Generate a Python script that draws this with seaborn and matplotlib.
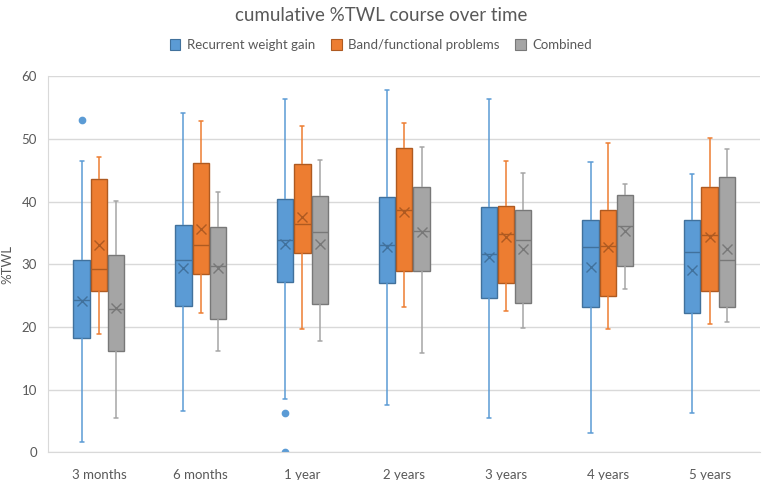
import numpy as np
import pandas as pd
import seaborn as sns
import matplotlib.pyplot as plt
from matplotlib.patches import Patch

categories = ['3 months', '6 months', '1 year', '2 years', '3 years', '4 years', '5 years']
series = ['Recurrent weight gain', 'Band/functional problems', 'Combined']

# box statistics (low whisker, Q1, median, Q3, high whisker, mean)
rwg_low = [1.6, 6.6, 8.5, 7.6, 5.5, 3.0, 6.2]
rwg_q1 = [18.3, 23.3, 27.2, 27.0, 24.6, 23.1, 22.2]
rwg_med = [24.3, 30.6, 33.8, 33.0, 31.6, 32.7, 32.0]
rwg_q3 = [30.7, 36.2, 40.4, 40.7, 39.1, 37.0, 37.1]
rwg_high = [46.5, 54.1, 56.3, 57.8, 56.4, 46.3, 44.4]
rwg_mean = [24.1, 29.4, 33.3, 32.8, 31.1, 29.5, 29.1]

band_low = [18.8, 22.2, 19.7, 23.1, 22.6, 19.7, 20.4]
band_q1 = [25.7, 28.5, 31.8, 28.9, 27.0, 24.9, 25.7]
band_med = [29.3, 33.1, 36.5, 38.6, 34.9, 32.9, 34.7]
band_q3 = [43.6, 46.2, 46.0, 48.5, 39.3, 38.6, 42.3]
band_high = [47.1, 52.8, 52.1, 52.5, 46.5, 49.3, 50.1]
band_mean = [33.0, 35.7, 37.6, 38.4, 34.4, 32.7, 34.3]

comb_low = [5.4, 16.1, 17.7, 15.9, 19.9, 26.1, 20.7]
comb_q1 = [16.2, 21.2, 23.6, 29.0, 23.8, 29.7, 23.1]
comb_med = [22.8, 29.7, 35.2, 35.3, 33.9, 36.1, 30.7]
comb_q3 = [31.4, 35.9, 40.9, 42.4, 38.6, 41.0, 44.0]
comb_high = [40.1, 41.5, 46.6, 48.7, 44.5, 42.8, 48.4]
comb_mean = [23.0, 29.4, 33.2, 35.1, 32.4, 35.3, 32.5]

# outliers (category, series, value)
out_time = ['3 months', '1 year', '1 year']
out_series = ['Recurrent weight gain', 'Recurrent weight gain', 'Recurrent weight gain']
out_value = [53.1, 6.3, 0.0]

fill_colors = ['#5B9BD5', '#ED7D31', '#A5A5A5']
edge_colors = ['#41719C', '#AE5A21', '#787878']
palette = dict(zip(series, fill_colors))
edge_palette = dict(zip(series, edge_colors))

stats = {
    series[0]: (rwg_low, rwg_q1, rwg_med, rwg_q3, rwg_high),
    series[1]: (band_low, band_q1, band_med, band_q3, band_high),
    series[2]: (comb_low, comb_q1, comb_med, comb_q3, comb_high),
}
means = {series[0]: rwg_mean, series[1]: band_mean, series[2]: comb_mean}

# five points per box reproduce the quartiles and whisker ends exactly
rows = []
for s, cols in stats.items():
    for i, t in enumerate(categories):
        for col in cols:
            rows.append((t, s, col[i]))
box_df = pd.DataFrame(rows, columns=['time', 'series', 'value'])

mean_df = pd.DataFrame([(t, s, means[s][i]) for s in series for i, t in enumerate(categories)],
                       columns=['time', 'series', 'value'])
out_df = pd.DataFrame({'time': out_time, 'series': out_series, 'value': out_value})
out_df['rank'] = out_df.groupby(['time', 'series']).cumcount()

sns.set_style('white')
plt.rcParams['font.family'] = ['Lato', 'DejaVu Sans']
text_color = '#595959'

fig = plt.figure(figsize=(7.62, 4.8), dpi=100)
ax = fig.add_axes([0.063, 0.058, 0.935, 0.783])

for s, lc, fc in zip(series, edge_colors, fill_colors):
    sns.boxplot(data=box_df[box_df.series == s], x='time', y='value', hue='series',
                order=categories, hue_order=series, palette=palette, saturation=1,
                dodge=True, width=0.51, gap=0.06, whis=np.inf, linecolor=lc, linewidth=1,
                capwidths=0.04, legend=False, ax=ax,
                whiskerprops=dict(color=fc, linewidth=1.1),
                capprops=dict(color=fc, linewidth=1.1))

sns.pointplot(data=mean_df, x='time', y='value', hue='series', order=categories,
              hue_order=series, palette=edge_palette, dodge=0.34, linestyle='none',
              errorbar=None, markers='x', markersize=7, markeredgewidth=1,
              legend=False, ax=ax)

for r, sub in out_df.groupby('rank'):
    sns.pointplot(data=sub, x='time', y='value', hue='series', order=categories,
                  hue_order=series, palette=palette, dodge=0.34, linestyle='none',
                  errorbar=None, markers='o', markersize=3.5, legend=False, ax=ax)

ax.set_xlim(-0.5, len(categories) - 0.5)
ax.set_ylim(0, 60)
ax.set_yticks(range(0, 61, 10))
ax.yaxis.grid(True, color='#D9D9D9', linewidth=1)
ax.set_axisbelow(True)
for side in ['top', 'right']:
    ax.spines[side].set_visible(False)
ax.spines['left'].set_color('#D9D9D9')
ax.spines['bottom'].set_color('#D9D9D9')
ax.tick_params(axis='y', length=0, labelsize=9.5, colors=text_color, pad=8)
ax.tick_params(axis='x', length=0, labelsize=9.5, colors=text_color, pad=12)
ax.set_xlabel('')
ax.set_ylabel('%TWL', fontsize=9.5, color=text_color, labelpad=6)

fig.suptitle('cumulative %TWL course over time', y=0.985, fontsize=13.5, color=text_color)
handles = [Patch(facecolor=palette[s], edgecolor=edge_palette[s], linewidth=0.8) for s in series]
fig.legend(handles=handles, labels=series, loc='center', bbox_to_anchor=(0.5, 0.906),
           ncol=3, frameon=False, fontsize=9.5, handlelength=0.8, handleheight=0.9,
           handletextpad=0.5, columnspacing=1.2, labelcolor=text_color)

fig.savefig('out.png', dpi=100)
